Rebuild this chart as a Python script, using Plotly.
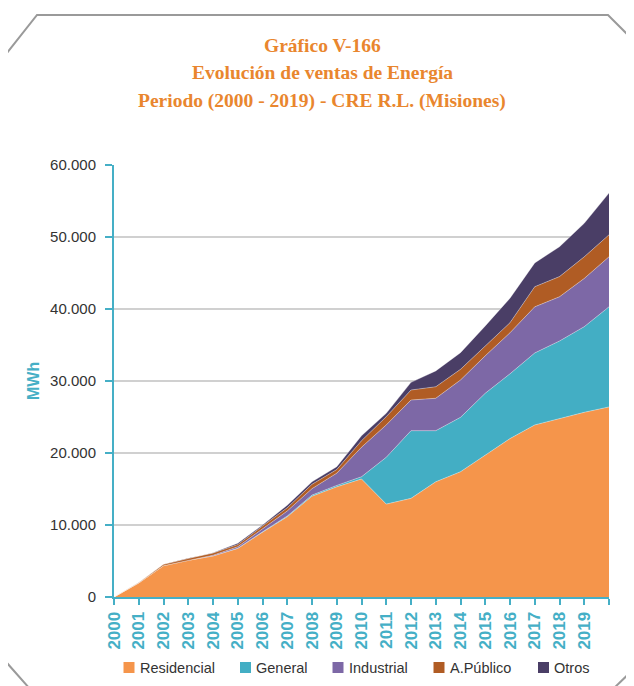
import plotly.graph_objects as go

# ---- data (MWh), one point per tick position; last tick unlabeled ----
tick_labels = ["2000", "2001", "2002", "2003", "2004", "2005", "2006", "2007", "2008", "2009",
               "2010", "2011", "2012", "2013", "2014", "2015", "2016", "2017", "2018", "2019", ""]

residencial = [0, 1950, 4350, 5100, 5700, 6750, 9000, 11150, 14000, 15300,
               16400, 12900, 13700, 16000, 17400, 19700, 22000, 23900, 24800, 25650, 26400]
general = [0, 0, 0, 0, 0, 30, 50, 100, 150, 200,
           300, 6500, 9400, 7100, 7550, 8600, 9000, 10000, 10750, 11900, 13900]
industrial = [0, 0, 0, 0, 100, 200, 400, 700, 900, 1700,
              4100, 4500, 4260, 4500, 5190, 5200, 5700, 6400, 6150, 6700, 6950]
a_publico = [0, 50, 200, 280, 300, 300, 400, 450, 600, 500,
             900, 1150, 1390, 1600, 1480, 1400, 1400, 2800, 2800, 3000, 3050]
otros = [0, 0, 0, 0, 50, 200, 150, 350, 350, 400,
         700, 460, 1060, 2200, 2310, 2750, 3400, 3300, 4150, 4650, 5800]

series_names = ["Residencial", "General", "Industrial", "A.Público", "Otros"]
series_values = [residencial, general, industrial, a_publico, otros]
series_colors = ["#F5954B", "#43AEC4", "#7D68A6", "#B05C24", "#4A3E66"]

title_lines = ["Gráfico V-166", "Evolución de ventas de Energía",
               "Periodo (2000 - 2019) - CRE R.L. (Misiones)"]

# ---- layout geometry (page pixels; page body has an 8px margin) ----
OFF = 8
W, H = 634 - OFF, 686 - OFF
PL, PR, PT, PB = 114, 609, 165, 597      # plot area edges in page pixels
PW, PH = PR - PL, PB - PT


def px(x):
    return (x - PL) / PW


def py(y):
    return (PB - y) / PH


CYAN = "#45AFC6"
ORANGE = "#E9862E"
x_idx = list(range(len(tick_labels)))

fig = go.Figure()
for name, vals, col in zip(series_names, series_values, series_colors):
    fig.add_trace(go.Scatter(
        x=x_idx, y=vals, name=name, mode="lines", stackgroup="one",
        fillcolor=col, line=dict(width=0.6, color="rgba(255,255,255,0.55)"),
        showlegend=False, hoverinfo="x+y+name"))

shapes = []
frame1 = f"M {px(30)},{py(689)} L {px(7)},{py(663)} L {px(7)},{py(53)} L {px(37)},{py(15)} L {px(608)},{py(15)} L {px(640)},{py(47)}"
frame2 = f"M {px(612)},{py(690)} L {px(640)},{py(663)}"
for p in (frame1, frame2):
    shapes.append(dict(type="path", path=p, xref="paper", yref="paper",
                       line=dict(color="#9A9A9A", width=2)))

annotations = []
for txt, yc in zip(title_lines, [46, 73, 101]):
    annotations.append(dict(text=f"<b>{txt}</b>", x=px(322), y=py(yc), xref="paper", yref="paper",
                            xanchor="center", yanchor="middle", showarrow=False,
                            font=dict(family="Liberation Serif", size=19.5, color=ORANGE)))

annotations.append(dict(text="<b>MWh</b>", x=px(33), y=py(381), xref="paper", yref="paper",
                        textangle=-90, xanchor="center", yanchor="middle", showarrow=False,
                        font=dict(family="Liberation Sans", size=16, color=CYAN)))

leg_sq = [123.5, 240, 332.5, 433.5, 538]
leg_y = 667.5
for name, col, x0 in zip(series_names, series_colors, leg_sq):
    shapes.append(dict(type="rect", xref="paper", yref="paper",
                       x0=px(x0), x1=px(x0 + 11), y0=py(leg_y - 5.5), y1=py(leg_y + 5.5),
                       fillcolor=col, line=dict(width=0)))
    annotations.append(dict(text=name, x=px(x0 + 14), y=py(leg_y), xref="paper", yref="paper",
                            xanchor="left", yanchor="middle", showarrow=False,
                            font=dict(family="Liberation Sans", size=14.5, color="#333333")))

fig.update_layout(
    width=W, height=H, autosize=False,
    margin=dict(l=PL - OFF, r=W + OFF - PR, t=PT - OFF, b=H + OFF - PB, pad=0),
    paper_bgcolor="white", plot_bgcolor="white",
    separators=",.",
    showlegend=False,
    shapes=shapes, annotations=annotations,
    xaxis=dict(range=[0, len(tick_labels) - 1], tickmode="array", tickvals=x_idx, ticktext=tick_labels,
               tickangle=-90, showline=True, linecolor=CYAN, linewidth=2,
               ticks="outside", ticklen=6, tickwidth=2, tickcolor=CYAN,
               showgrid=False, zeroline=False,
               tickfont=dict(family="Liberation Sans", size=17, color=CYAN, weight="bold")),
    yaxis=dict(range=[0, 60000], dtick=10000, tickformat=",d",
               showline=True, linecolor=CYAN, linewidth=2,
               ticks="outside", ticklen=7, tickwidth=2, tickcolor=CYAN,
               showgrid=True, gridcolor="#D0D0D0", gridwidth=2, zeroline=False,
               ticklabelstandoff=6,
               tickfont=dict(family="Liberation Sans", size=15, color="#333333")),
)

fig.write_html("out.html")
